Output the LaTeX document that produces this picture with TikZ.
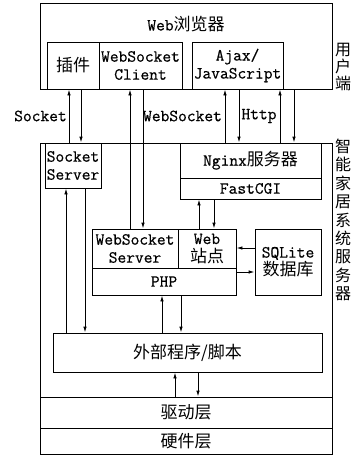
\documentclass[tikz,border=0pt]{standalone}
\usepackage{fontspec}
\newfontfamily\cjk{Noto Sans CJK SC}
\newfontfamily\latn[FakeBold=0.6]{Latin Modern Mono}
\newcommand{\zh}[1]{{\cjk #1}}
\usetikzlibrary{arrows.meta}
\tikzset{
  box/.style={draw,line width=0.9pt,inner sep=0pt,align=center,
    font=\latn\fontsize{17}{18}\selectfont},
  lbl/.style={inner sep=0pt,font=\latn\fontsize{17}{18}\selectfont},
  side/.style={inner sep=0pt,align=center,font=\cjk\fontsize{16}{17}\selectfont}
}
\begin{document}
\begin{tikzpicture}[x=1pt,y=-1pt]
      \useasboundingbox (0,0) rectangle (355,455);
      % user side
      \node[box,minimum width=292,minimum height=86] (browser) at (186,46) {};
      \node[lbl] (title) at (186,24) {Web\zh{浏览器}};
      \node[box,minimum width=52,minimum height=47] (plugin) at (73,65.5) {\zh{插件}};
      \node[box,minimum width=83,minimum height=47] (wsclient) at (140.5,65.5) {WebSocket\\Client};
      \node[box,minimum width=91,minimum height=47] (ajax) at (237.5,65.5) {Ajax/\\JavaScript};
      % server side
      \node[box,minimum width=292,minimum height=311] (server) at (186,298.5) {};
      \node[box,minimum width=56,minimum height=45] (sock) at (73,165.5) {Socket\\Server};
      \node[box,minimum width=141,minimum height=35] (nginx) at (250.5,160.5) {Nginx\zh{服务器}};
      \node[box,minimum width=141,minimum height=21] (fastcgi) at (250.5,188.5) {FastCGI};
      \node[box,minimum width=86,minimum height=39] (wsserver) at (135,248.5) {WebSocket\\Server};
      \node[box,minimum width=58,minimum height=39] (website) at (207,248.5) {Web\\\zh{站点}};
      \node[box,minimum width=144,minimum height=27] (php) at (164,281.5) {PHP};
      \node[box,minimum width=66,minimum height=66] (sqlite) at (288,262) {SQLite\\\zh{数据库}};
      \node[box,minimum width=269,minimum height=39] (ext) at (187.5,352.5) {\zh{外部程序/脚本}};
      \node[box,minimum width=292,minimum height=31] (driver) at (186,412.5) {\zh{驱动层}};
      \node[box,minimum width=292,minimum height=26] (hardware) at (186,441) {\zh{硬件层}};
      % labels
      \node[lbl] (socketlbl) at (40.5,116) {Socket};
      \node[lbl] (wslbl) at (182.5,116) {WebSocket};
      \node[lbl] (httplbl) at (259,116) {Http};
      \node[side] (userlbl) at (343,67) {用\\户\\端};
      \node[side,font=\cjk\fontsize{16}{18.4}\selectfont] (serverlbl) at (343,220) {智\\能\\家\\居\\系\\统\\服\\务\\器};
      \begin{scope}[every edge/.style={draw=black,line width=0.9pt,-{Latex[length=6pt,width=3.5pt]}}]
        \path (69,0 |- sock.north) edge (69,0 |- browser.south);
        \path (81,0 |- browser.south) edge (81,0 |- sock.north);
        \path (130,0 |- wsserver.north) edge (130,0 |- browser.south);
        \path (143,0 |- browser.south) edge (143,0 |- wsserver.north);
        \path (225,0 |- nginx.north) edge (225,0 |- browser.south);
        \path (239,0 |- browser.south) edge (239,0 |- nginx.north);
        \path (280,0 |- nginx.north) edge (280,0 |- browser.south);
        \path (294,0 |- browser.south) edge (294,0 |- nginx.north);
        \path (66,0 |- ext.north) edge (66,0 |- sock.south);
        \path (85,0 |- sock.south) edge (85,0 |- ext.north);
        \path (199,0 |- website.north) edge (199,0 |- fastcgi.south);
        \path (214,0 |- fastcgi.south) edge (214,0 |- website.north);
        \path (sqlite.west |- 0,248) edge (website.east |- 0,248);
        \path (php.east |- 0,272) edge (sqlite.west |- 0,272);
        \path (162,0 |- ext.north) edge (162,0 |- php.south);
        \path (181,0 |- php.south) edge (181,0 |- ext.north);
        \path (175,0 |- driver.north) edge (175,0 |- ext.south);
        \path (198,0 |- ext.south) edge (198,0 |- driver.north);
      \end{scope}
    \end{tikzpicture}
\end{document}
